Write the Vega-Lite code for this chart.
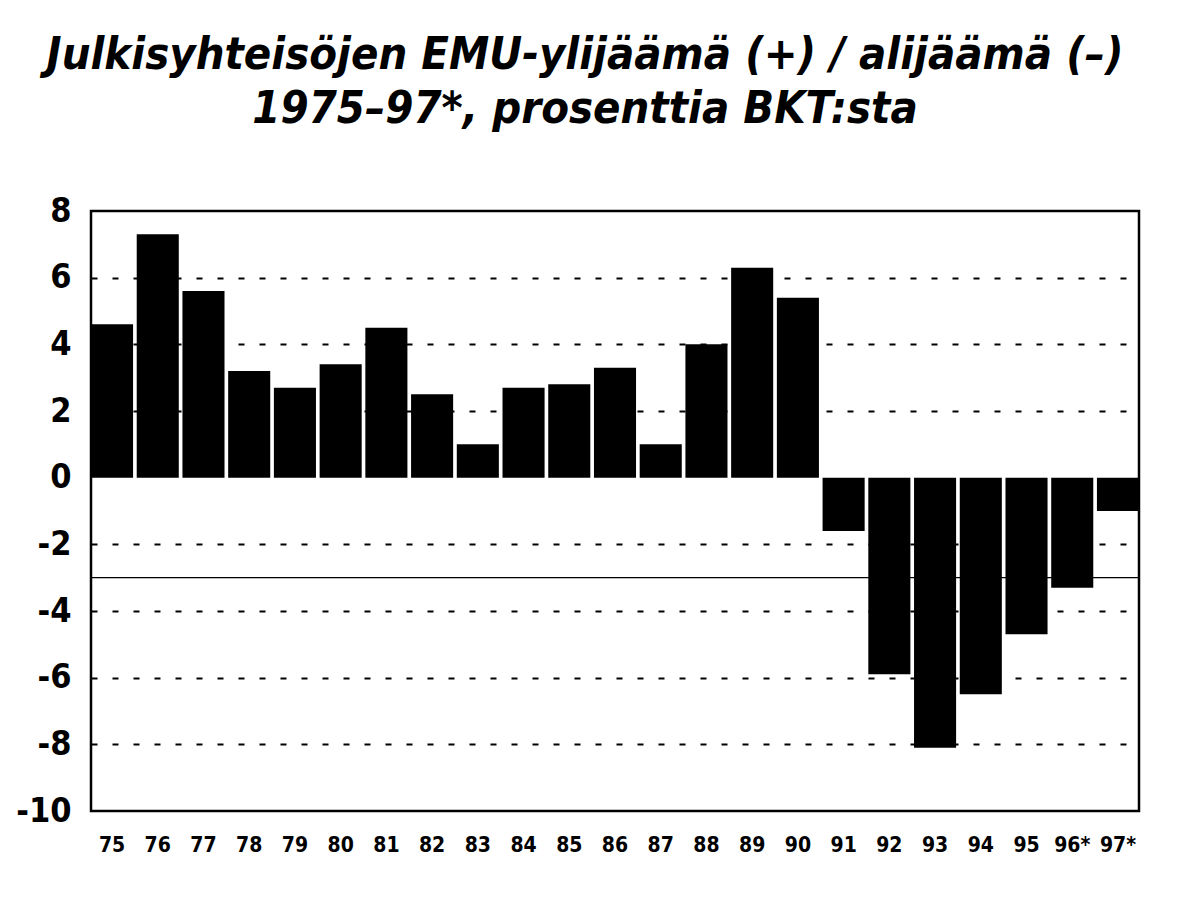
{
  "$schema": "https://vega.github.io/schema/vega-lite/v6.json",
  "autosize": {"type": "none"},
  "width": 1048,
  "height": 600,
  "padding": {"left": 91, "top": 211, "right": 41, "bottom": 88},
  "background": "white",
  "title": {
    "text": ["Julkisyhteisöjen EMU-ylijäämä (+) / alijäämä (–)", "1975–97*, prosenttia BKT:sta"],
    "font": "DejaVu Sans Condensed, Liberation Sans Narrow, sans-serif",
    "fontSize": 45,
    "fontWeight": "bold",
    "fontStyle": "italic",
    "lineHeight": 54,
    "color": "black",
    "anchor": "middle",
    "dx": -30,
    "offset": 62
  },
  "data": {
    "values": [
      {"year": "75", "value": 4.6},
      {"year": "76", "value": 7.3},
      {"year": "77", "value": 5.6},
      {"year": "78", "value": 3.2},
      {"year": "79", "value": 2.7},
      {"year": "80", "value": 3.4},
      {"year": "81", "value": 4.5},
      {"year": "82", "value": 2.5},
      {"year": "83", "value": 1.0},
      {"year": "84", "value": 2.7},
      {"year": "85", "value": 2.8},
      {"year": "86", "value": 3.3},
      {"year": "87", "value": 1.0},
      {"year": "88", "value": 4.0},
      {"year": "89", "value": 6.3},
      {"year": "90", "value": 5.4},
      {"year": "91", "value": -1.6},
      {"year": "92", "value": -5.9},
      {"year": "93", "value": -8.1},
      {"year": "94", "value": -6.5},
      {"year": "95", "value": -4.7},
      {"year": "96*", "value": -3.3},
      {"year": "97*", "value": -1.0}
    ]
  },
  "layer": [
    {
      "data": {"values": [{"limit": -3}]},
      "mark": {"type": "rule", "color": "black", "strokeWidth": 1.2},
      "encoding": {"y": {"field": "limit", "type": "quantitative", "scale": {"domain": [-10, 8]}}}
    },
    {
      "mark": {"type": "bar", "color": "black"},
      "encoding": {
        "x": {
          "field": "year",
          "type": "ordinal",
          "sort": null,
          "scale": {"paddingInner": 0.08, "paddingOuter": 0},
          "axis": {
            "title": null,
            "ticks": false,
            "domain": false,
            "labelAngle": 0,
            "labelPadding": 34,
            "labelFont": "DejaVu Sans Condensed, Liberation Sans Narrow, sans-serif",
            "labelFontSize": 21,
            "labelFontWeight": "bold",
            "labelColor": "black",
            "labelBaseline": "middle"
          }
        },
        "y": {
          "field": "value",
          "type": "quantitative",
          "scale": {"domain": [-10, 8], "nice": false, "zero": false},
          "axis": {
            "title": null,
            "values": [-10, -8, -6, -4, -2, 0, 2, 4, 6, 8],
            "labelExpr": "toString(datum.value)",
            "ticks": false,
            "domain": false,
            "labelPadding": 20,
            "labelFont": "DejaVu Sans Condensed, Liberation Sans Narrow, sans-serif",
            "labelFontSize": 34,
            "labelFontWeight": "bold",
            "labelColor": "black",
            "grid": true,
            "gridColor": "black",
            "gridWidth": 2,
            "gridDash": [6, 15],
            "gridOpacity": {"condition": {"test": "datum.value === 0 || datum.value === 8 || datum.value === -10", "value": 0}, "value": 1}
          }
        }
      }
    }
  ],
  "config": {
    "view": {"stroke": "black", "strokeWidth": 2.5}
  }
}
